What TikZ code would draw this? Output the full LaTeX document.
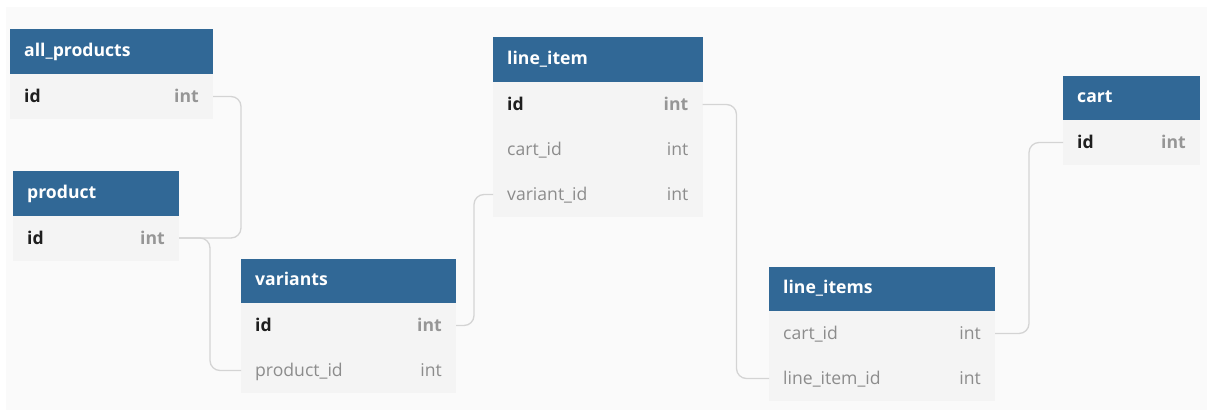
\documentclass[tikz,border=0pt]{standalone}
\usepackage{fontspec}
\setmainfont{Open Sans}
\definecolor{hdr}{RGB}{49,104,150}
\definecolor{rowbg}{RGB}{244,244,244}
\definecolor{bgc}{RGB}{250,250,250}
\definecolor{pkc}{RGB}{30,30,30}
\definecolor{typec}{RGB}{150,150,150}
\definecolor{fkc}{RGB}{140,140,140}
\definecolor{linkc}{RGB}{212,212,212}
\newcommand{\tfont}{\fontsize{17.6}{21}\selectfont}
\begin{document}
\begin{tikzpicture}[x=1pt,y=-1pt,
  hdrbox/.style={fill=hdr,anchor=north west,minimum height=44.5pt,inner sep=0pt,outer sep=0pt},
  rowbox/.style={fill=rowbg,anchor=north west,minimum height=45pt,inner sep=0pt,outer sep=0pt},
  title/.style={anchor=base west,text=white,font=\tfont\bfseries,inner sep=0pt},
  pkname/.style={anchor=base west,text=pkc,font=\tfont\bfseries,inner sep=0pt},
  pktype/.style={anchor=base east,text=typec,font=\tfont\bfseries,inner sep=0pt},
  fkname/.style={anchor=base west,text=fkc,font=\tfont,inner sep=0pt},
  fktype/.style={anchor=base east,text=fkc,font=\tfont,inner sep=0pt},
  link/.style={draw=linkc,line width=1.3pt,rounded corners=10pt}]
\useasboundingbox (0,0) rectangle (1207,412);
\fill[bgc] (6,7) rectangle (1207,410);

% all_products
\node[hdrbox,minimum width=203pt] (ap) at (10,29.5) {};
\node[title] (ap-t) at ([xshift=14pt,yshift=-5pt]ap.west) {all\_products};
\node[rowbox,minimum width=203pt] (ap-id) at (10,74) {};
\node[pkname] (ap-id-n) at ([xshift=14pt,yshift=-6pt]ap-id.west) {id};
\node[pktype] (ap-id-t) at ([xshift=-14pt,yshift=-6pt]ap-id.east) {int};

% product
\node[hdrbox,minimum width=166pt] (pr) at (13,171) {};
\node[title] (pr-t) at ([xshift=14pt,yshift=-5pt]pr.west) {product};
\node[rowbox,minimum width=166pt] (pr-id) at (13,215.5) {};
\node[pkname] (pr-id-n) at ([xshift=14pt,yshift=-6pt]pr-id.west) {id};
\node[pktype] (pr-id-t) at ([xshift=-14pt,yshift=-6pt]pr-id.east) {int};

% variants
\node[hdrbox,minimum width=215pt] (va) at (241,258.5) {};
\node[title] (va-t) at ([xshift=14pt,yshift=-5pt]va.west) {variants};
\node[rowbox,minimum width=215pt] (va-id) at (241,303) {};
\node[pkname] (va-id-n) at ([xshift=14pt,yshift=-6pt]va-id.west) {id};
\node[pktype] (va-id-t) at ([xshift=-14pt,yshift=-6pt]va-id.east) {int};
\node[rowbox,minimum width=215pt] (va-pid) at (241,348) {};
\node[fkname] (va-pid-n) at ([xshift=14pt,yshift=-6pt]va-pid.west) {product\_id};
\node[fktype] (va-pid-t) at ([xshift=-14pt,yshift=-6pt]va-pid.east) {int};

% line_item
\node[hdrbox,minimum width=209.5pt] (li) at (493,37.5) {};
\node[title] (li-t) at ([xshift=14pt,yshift=-5pt]li.west) {line\_item};
\node[rowbox,minimum width=209.5pt] (li-id) at (493,82) {};
\node[pkname] (li-id-n) at ([xshift=14pt,yshift=-6pt]li-id.west) {id};
\node[pktype] (li-id-t) at ([xshift=-14pt,yshift=-6pt]li-id.east) {int};
\node[rowbox,minimum width=209.5pt] (li-cid) at (493,127) {};
\node[fkname] (li-cid-n) at ([xshift=14pt,yshift=-6pt]li-cid.west) {cart\_id};
\node[fktype] (li-cid-t) at ([xshift=-14pt,yshift=-6pt]li-cid.east) {int};
\node[rowbox,minimum width=209.5pt] (li-vid) at (493,172) {};
\node[fkname] (li-vid-n) at ([xshift=14pt,yshift=-6pt]li-vid.west) {variant\_id};
\node[fktype] (li-vid-t) at ([xshift=-14pt,yshift=-6pt]li-vid.east) {int};

% line_items
\node[hdrbox,minimum width=226pt] (ls) at (769,266.5) {};
\node[title] (ls-t) at ([xshift=14pt,yshift=-5pt]ls.west) {line\_items};
\node[rowbox,minimum width=226pt] (ls-cid) at (769,311) {};
\node[fkname] (ls-cid-n) at ([xshift=14pt,yshift=-6pt]ls-cid.west) {cart\_id};
\node[fktype] (ls-cid-t) at ([xshift=-14pt,yshift=-6pt]ls-cid.east) {int};
\node[rowbox,minimum width=226pt] (ls-lid) at (769,356) {};
\node[fkname] (ls-lid-n) at ([xshift=14pt,yshift=-6pt]ls-lid.west) {line\_item\_id};
\node[fktype] (ls-lid-t) at ([xshift=-14pt,yshift=-6pt]ls-lid.east) {int};

% cart
\node[hdrbox,minimum width=137pt] (ca) at (1063,75.5) {};
\node[title] (ca-t) at ([xshift=14pt,yshift=-5pt]ca.west) {cart};
\node[rowbox,minimum width=137pt] (ca-id) at (1063,120) {};
\node[pkname] (ca-id-n) at ([xshift=14pt,yshift=-6pt]ca-id.west) {id};
\node[pktype] (ca-id-t) at ([xshift=-14pt,yshift=-6pt]ca-id.east) {int};

% connectors
\draw[link] (ap-id.east) -- ++(28,0) |- (pr-id.east);
\draw[link] (pr-id.east) -- ++(31,0) |- (va-pid.west);
\draw[link] (va-id.east) -- ++(18,0) |- (li-vid.west);
\draw[link] (li-id.east) -- ++(34,0) |- (ls-lid.west);
\draw[link] (ls-cid.east) -- ++(34,0) |- (ca-id.west);
\end{tikzpicture}
\end{document}
